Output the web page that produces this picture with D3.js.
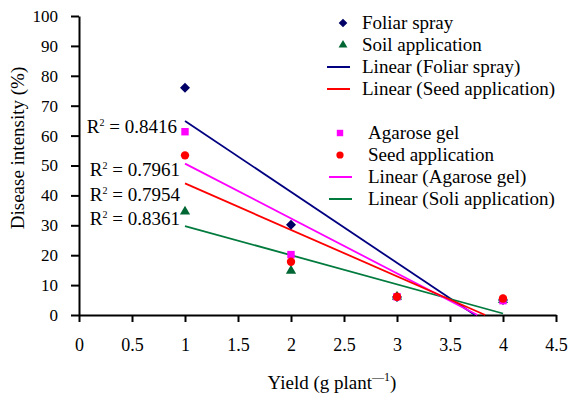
<!DOCTYPE html>
<html>
<head>
<meta charset="utf-8">
<script src="https://cdn.jsdelivr.net/npm/d3@7"></script>
<style>
  body { margin: 0; background: #fff; }
  svg text { font-family: "Liberation Serif", "Times New Roman", serif; fill: #000; }
</style>
</head>
<body>
<svg class="chart"></svg>
<script>
const width = 571;
const height = 399;

// data
const yields = [1, 2, 3, 4];
const foliarSpray = [76, 30.2, 6, 5];
const soilApplication = [34.6, 14.8, 6.1, 5];
const agaroseGel = [61.3, 20.2, 6.1, 4.8];
const seedApplication = [53.4, 17.8, 6.1, 5.5];
const rSquaredLabels = ["0.8416", "0.7961", "0.7954", "0.8361"];
const xTicks = [0, 0.5, 1, 1.5, 2, 2.5, 3, 3.5, 4, 4.5];
const yTicks = [0, 10, 20, 30, 40, 50, 60, 70, 80, 90, 100];

const svg = d3.select(".chart").attr("width", width).attr("height", height);

const xScale = d3.scaleLinear().domain([0, 4.5]).range([79, 556]);
const yScale = d3.scaleLinear().domain([0, 100]).range([315, 16]);

const series = [
  { name: "Foliar spray", values: foliarSpray, color: "#000066", shape: d3.symbolSquare, rot: 45, size: 50 },
  { name: "Soil application", values: soilApplication, color: "#006633", shape: d3.symbolTriangle, rot: 0, size: 45 },
  { name: "Agarose gel", values: agaroseGel, color: "#ff00ff", shape: d3.symbolSquare, rot: 0, size: 55 },
  { name: "Seed application", values: seedApplication, color: "#ff0000", shape: d3.symbolCircle, rot: 0, size: 55 },
];

// least squares trendline, clipped at y = 0
function trend(values) {
  const mx = d3.mean(yields);
  const my = d3.mean(values);
  const sxy = d3.sum(yields, (x, i) => (x - mx) * (values[i] - my));
  const sxx = d3.sum(yields, (x) => (x - mx) ** 2);
  const m = sxy / sxx;
  const b = my - m * mx;
  const xEnd = Math.min(4, -b / m);
  return [
    [1, m * 1 + b],
    [xEnd, m * xEnd + b],
  ];
}

const lineColors = { "Foliar spray": "#000080", "Soil application": "#007a3d", "Agarose gel": "#ff00ff", "Seed application": "#ff0000" };

const line = d3.line().x((d) => xScale(d[0])).y((d) => yScale(d[1]));

// axes
const xAxis = svg
  .append("g")
  .attr("transform", `translate(0,${yScale(0)})`)
  .call(d3.axisBottom(xScale).tickValues(xTicks).tickFormat((d) => String(d)).tickSize(7).tickSizeOuter(0).tickPadding(16));

const yAxis = svg
  .append("g")
  .attr("transform", `translate(${xScale(0)},0)`)
  .call(d3.axisLeft(yScale).tickValues(yTicks).tickSize(8).tickSizeOuter(0).tickPadding(13));

[xAxis, yAxis].forEach((g) => {
  g.attr("font-family", '"Liberation Serif", serif');
  g.selectAll("path, line").attr("stroke", "#000").attr("stroke-width", 2);
  g.selectAll("text").attr("fill", "#000");
});
xAxis.selectAll("text").style("font-size", "18px");
yAxis.selectAll("text").style("font-size", "17px");

// trendlines
series.forEach((s) => {
  svg
    .append("path")
    .attr("d", line(trend(s.values)))
    .attr("fill", "none")
    .attr("stroke", lineColors[s.name])
    .attr("stroke-width", 1.8);
});

// points
series.forEach((s) => {
  svg
    .append("g")
    .selectAll("path")
    .data(s.values)
    .enter()
    .append("path")
    .attr("transform", (d, i) => `translate(${xScale(yields[i])},${yScale(d)}) rotate(${s.rot})`)
    .attr("d", d3.symbol().type(s.shape).size(s.size))
    .attr("fill", s.color);
});

// R squared labels
const rLabelY = [133, 176, 201, 225];
rSquaredLabels.forEach((r, i) => {
  const t = svg
    .append("text")
    .attr("x", i === 0 ? 177 : 180)
    .attr("y", rLabelY[i])
    .attr("text-anchor", "end")
    .style("font-size", "19px");
  t.append("tspan").text("R");
  t.append("tspan").attr("dy", -7).style("font-size", "10px").text("2");
  t.append("tspan").attr("dy", 7).text(" = " + r);
});

// axis titles
svg
  .append("text")
  .attr("transform", "translate(24,148) rotate(-90)")
  .attr("text-anchor", "middle")
  .style("font-size", "19px")
  .text("Disease intensity (%)");

const xTitle = svg
  .append("text")
  .attr("x", 332)
  .attr("y", 389)
  .attr("text-anchor", "middle")
  .style("font-size", "19px");
xTitle.append("tspan").text("Yield (g plant");
xTitle.append("tspan").attr("dy", -8).style("font-size", "12px").text("\u20141");
xTitle.append("tspan").attr("dy", 8).text(")");

// legend
const legendItems = [
  { label: "Foliar spray", s: series[0], type: "point", x: 343, tx: 362, y: 23 },
  { label: "Soil application", s: series[1], type: "point", x: 343, tx: 362, y: 45 },
  { label: "Linear (Foliar spray)", s: series[0], type: "line", x: 327, tx: 362, y: 67 },
  { label: "Linear (Seed application)", s: series[3], type: "line", x: 327, tx: 362, y: 89 },
  { label: "Agarose gel", s: series[2], type: "point", x: 340, tx: 368, y: 133 },
  { label: "Seed application", s: series[3], type: "point", x: 340, tx: 368, y: 155 },
  { label: "Linear (Agarose gel)", s: series[2], type: "line", x: 329, tx: 368, y: 177 },
  { label: "Linear (Soli application)", s: series[1], type: "line", x: 329, tx: 368, y: 199 },
];

legendItems.forEach((d) => {
  if (d.type === "point") {
    svg
      .append("path")
      .attr("transform", `translate(${d.x},${d.y}) rotate(${d.s.rot})`)
      .attr("d", d3.symbol().type(d.s.shape).size(d.s.size * 0.75))
      .attr("fill", d.s.color);
  } else {
    svg
      .append("line")
      .attr("x1", d.x)
      .attr("x2", d.x + 23)
      .attr("y1", d.y)
      .attr("y2", d.y)
      .attr("stroke", lineColors[d.s.name])
      .attr("stroke-width", 2);
  }
  svg
    .append("text")
    .attr("x", d.tx)
    .attr("y", d.y + 6)
    .style("font-size", "19px")
    .text(d.label);
});
</script>
</body>
</html>
